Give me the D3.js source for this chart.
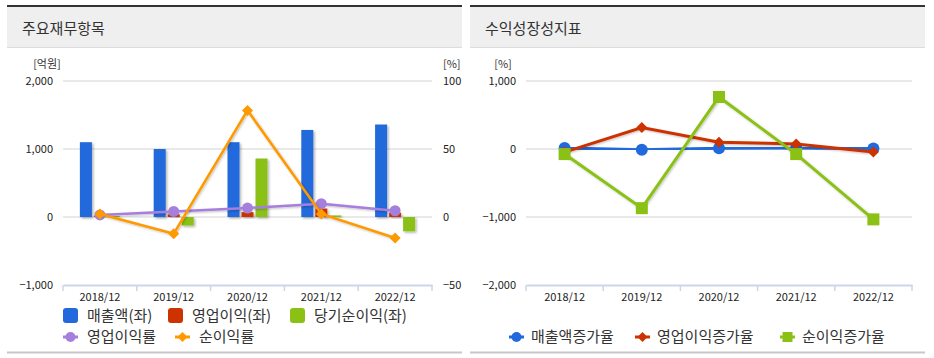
<!DOCTYPE html>
<html><head><meta charset="utf-8">
<script src="https://cdn.jsdelivr.net/npm/d3@7"></script>
<style>
html,body{margin:0;padding:0;background:#fff;}
text{font-family:"Noto Sans CJK KR","Noto Sans",sans-serif;}
</style></head>
<body>
<svg id="c" width="934" height="358"></svg>
<script>
const categories = ["2018/12","2019/12","2020/12","2021/12","2022/12"];
// left chart (억원)
const revenue = [1100, 1000, 1100, 1280, 1360];
const operatingIncome = [17, 40, 72, 125, 62];
const netIncome = [16, -125, 860, 23, -210];
// left chart (%)
const operatingMargin = [1.5, 4.1, 6.6, 9.8, 4.6];
const netMargin = [2.2, -12.3, 78.4, 2.2, -15.4];
// right chart (%)
const revenueGrowth = [15, -10, 10, 16, 6];
const opGrowth = [-45, 315, 100, 75, -45];
const netGrowth = [-75, -870, 765, -75, -1035];

const leftTicks = [-1000, 0, 1000, 2000];
const pctTicks = [-50, 0, 50, 100];
const rightTicks = [-2000, -1000, 0, 1000];

const C = {blue:"#2169dc", red:"#cc3300", green:"#8bc115", purple:"#a57fdb", orange:"#ff9900"};

const svg = d3.select("#c");
const defs = svg.append("defs");
const f = defs.append("filter").attr("id","sh").attr("x","-30%").attr("y","-30%").attr("width","160%").attr("height","160%");
f.append("feDropShadow").attr("dx",1.5).attr("dy",1.5).attr("stdDeviation",1).attr("flood-color","#000").attr("flood-opacity",0.3);
const f2 = defs.append("filter").attr("id","sh2").attr("x","-10%").attr("y","-10%").attr("width","120%").attr("height","120%");
f2.append("feDropShadow").attr("dx",1).attr("dy",1).attr("stdDeviation",0.8).attr("flood-color","#000").attr("flood-opacity",0.25);

const fmt = d3.format(",");

function panel(x0, title){
  svg.append("rect").attr("x",x0).attr("y",6).attr("width",455).attr("height",41).attr("fill","#efefef");
  svg.append("rect").attr("x",x0).attr("y",5).attr("width",455).attr("height",2).attr("fill","#333");
  svg.append("rect").attr("x",x0).attr("y",47).attr("width",455).attr("height",1).attr("fill","#dcdcdc");
  svg.append("rect").attr("x",x0).attr("y",351.5).attr("width",455).attr("height",2).attr("fill","#c8c8c8");
  svg.append("text").attr("x",x0+15).attr("y",34).attr("font-size",15).attr("fill","#333").text(title);
}
panel(7, "주요재무항목");
panel(470, "수익성장성지표");

function diamond(s){ return `M0,${-s}L${s},0L0,${s}L${-s},0Z`; }

// ---------- LEFT CHART ----------
{
  const x = d3.scaleBand().domain(categories).range([63,432]);
  const yL = d3.scaleLinear().domain([-1000,2000]).range([285,81]);
  const yR = d3.scaleLinear().domain([-50,100]).range([285,81]);
  const g = svg.append("g");
  g.selectAll(".gl").data(leftTicks.filter(d=>d>-1000)).join("line")
    .attr("x1",63).attr("x2",432).attr("y1",d=>yL(d)).attr("y2",d=>yL(d))
    .attr("stroke","#e2e2e2").attr("stroke-width",1.5);
  const ax = g.append("g").attr("transform","translate(0,285)")
    .call(d3.axisBottom(x).tickSize(0).tickPadding(8));
  ax.select(".domain").attr("stroke","#ccd6eb").attr("stroke-width",2);
  ax.selectAll("text").attr("font-size",11).attr("fill","#222").attr("font-family","'Noto Sans CJK KR'");
  g.selectAll(".tk").data(d3.range(categories.length+1)).join("line")
    .attr("x1",i=>63+i*x.step()).attr("x2",i=>63+i*x.step()).attr("y1",285).attr("y2",291)
    .attr("stroke","#ccd6eb").attr("stroke-width",1.5);
  const al = g.append("g").attr("transform","translate(63,0)").call(d3.axisLeft(yL).tickValues(leftTicks).tickFormat(fmt).tickSize(0).tickPadding(10));
  al.select(".domain").remove();
  al.selectAll("text").attr("font-size",11).attr("fill","#222").attr("font-family","'Noto Sans CJK KR'");
  const ar = g.append("g").attr("transform","translate(432,0)").call(d3.axisRight(yR).tickValues(pctTicks).tickSize(0).tickPadding(11));
  ar.select(".domain").remove();
  ar.selectAll("text").attr("font-size",11).attr("fill","#222").attr("font-family","'Noto Sans CJK KR'");
  g.append("text").attr("x",47).attr("y",68).attr("text-anchor","middle").attr("font-size",11).attr("fill","#333").text("[억원]");
  g.append("text").attr("x",443).attr("y",68).attr("font-size",11).attr("fill","#333").text("[%]");

  const series = [[revenue,C.blue,-20],[operatingIncome,C.red,-6],[netIncome,C.green,8]];
  series.forEach(([vals,col,off])=>{
    g.append("g").selectAll("rect").data(vals).join("rect")
      .attr("x",(d,i)=>x(categories[i])+x.bandwidth()/2+off)
      .attr("width",12)
      .attr("y",d=>Math.min(yL(d),yL(0)))
      .attr("height",d=>Math.abs(yL(d)-yL(0)))
      .attr("fill",col).attr("filter","url(#sh)");
  });
  const cx = (d,i)=>x(categories[i])+x.bandwidth()/2;
  const line = d3.line().x((d,i)=>cx(d,i)).y(d=>yR(d));
  g.append("path").datum(operatingMargin).attr("d",line).attr("fill","none").attr("stroke",C.purple).attr("stroke-width",2.5).attr("filter","url(#sh2)");
  g.selectAll(".pc").data(operatingMargin).join("circle").attr("cx",cx).attr("cy",d=>yR(d)).attr("r",5.5).attr("fill",C.purple);
  g.append("path").datum(netMargin).attr("d",line).attr("fill","none").attr("stroke",C.orange).attr("stroke-width",2.5).attr("filter","url(#sh2)");
  g.selectAll(".od").data(netMargin).join("path").attr("transform",(d,i)=>`translate(${cx(d,i)},${yR(d)})`).attr("d",diamond(5.5)).attr("fill",C.orange);

  const lg = svg.append("g");
  const row1 = [["매출액(좌)",C.blue,63],["영업이익(좌)",C.red,168],["당기순이익(좌)",C.green,290]];
  row1.forEach(([t,c,lx])=>{
    lg.append("rect").attr("x",lx).attr("y",308).attr("width",15).attr("height",15).attr("rx",3).attr("fill",c);
    lg.append("text").attr("x",lx+24).attr("y",321).attr("font-size",15).attr("fill","#333").text(t);
  });
  const row2 = [["영업이익률",C.purple,63,"c"],["순이익률",C.orange,175,"d"]];
  row2.forEach(([t,c,lx,m])=>{
    lg.append("line").attr("x1",lx).attr("x2",lx+15).attr("y1",337).attr("y2",337).attr("stroke",c).attr("stroke-width",3);
    if(m==="c") lg.append("circle").attr("cx",lx+7.5).attr("cy",337).attr("r",5).attr("fill",c);
    else lg.append("path").attr("transform",`translate(${lx+7.5},337)`).attr("d",diamond(5)).attr("fill",c);
    lg.append("text").attr("x",lx+24).attr("y",342).attr("font-size",15).attr("fill","#333").text(t);
  });
}

// ---------- RIGHT CHART ----------
{
  const x = d3.scaleBand().domain(categories).range([526,912]);
  const y = d3.scaleLinear().domain([-2000,1000]).range([285,81]);
  const g = svg.append("g");
  g.selectAll(".gl").data(rightTicks.filter(d=>d>-2000)).join("line")
    .attr("x1",526).attr("x2",912).attr("y1",d=>y(d)).attr("y2",d=>y(d))
    .attr("stroke","#e2e2e2").attr("stroke-width",1.5);
  const ax = g.append("g").attr("transform","translate(0,285)")
    .call(d3.axisBottom(x).tickSize(0).tickPadding(8));
  ax.select(".domain").attr("stroke","#ccd6eb").attr("stroke-width",2);
  ax.selectAll("text").attr("font-size",11).attr("fill","#222").attr("font-family","'Noto Sans CJK KR'");
  g.selectAll(".tk").data(d3.range(categories.length+1)).join("line")
    .attr("x1",i=>526+i*x.step()).attr("x2",i=>526+i*x.step()).attr("y1",285).attr("y2",291)
    .attr("stroke","#ccd6eb").attr("stroke-width",1.5);
  const al = g.append("g").attr("transform","translate(526,0)").call(d3.axisLeft(y).tickValues(rightTicks).tickFormat(fmt).tickSize(0).tickPadding(10));
  al.select(".domain").remove();
  al.selectAll("text").attr("font-size",11).attr("fill","#222").attr("font-family","'Noto Sans CJK KR'");
  g.append("text").attr("x",503).attr("y",68).attr("text-anchor","middle").attr("font-size",11).attr("fill","#333").text("[%]");

  const cx = (d,i)=>x(categories[i])+x.bandwidth()/2;
  const line = d3.line().x((d,i)=>cx(d,i)).y(d=>y(d));
  const sers = [[revenueGrowth,C.blue,"c"],[opGrowth,C.red,"d"],[netGrowth,C.green,"s"]];
  sers.forEach(([vals,col,m])=>{
    g.append("path").datum(vals).attr("d",line).attr("fill","none").attr("stroke",col).attr("stroke-width",3).attr("filter","url(#sh2)");
    const mk = g.append("g").selectAll("g").data(vals).join("g").attr("transform",(d,i)=>`translate(${cx(d,i)},${y(d)})`);
    if(m==="c") mk.append("circle").attr("r",6).attr("fill",col);
    else if(m==="d") mk.append("path").attr("d",diamond(5.5)).attr("fill",col);
    else mk.append("rect").attr("x",-6).attr("y",-6).attr("width",12).attr("height",12).attr("fill",col);
  });

  const lg = svg.append("g");
  const items = [["매출액증가율",C.blue,509,"c"],["영업이익증가율",C.red,635,"d"],["순이익증가율",C.green,780,"s"]];
  items.forEach(([t,c,lx,m])=>{
    lg.append("line").attr("x1",lx).attr("x2",lx+15).attr("y1",337).attr("y2",337).attr("stroke",c).attr("stroke-width",3);
    if(m==="c") lg.append("circle").attr("cx",lx+7.5).attr("cy",337).attr("r",5).attr("fill",c);
    else if(m==="d") lg.append("path").attr("transform",`translate(${lx+7.5},337)`).attr("d",diamond(5)).attr("fill",c);
    else lg.append("rect").attr("x",lx+2.5).attr("y",332).attr("width",10).attr("height",10).attr("fill",c);
    lg.append("text").attr("x",lx+22).attr("y",342).attr("font-size",15).attr("fill","#333").text(t);
  });
}
</script>
</body></html>
